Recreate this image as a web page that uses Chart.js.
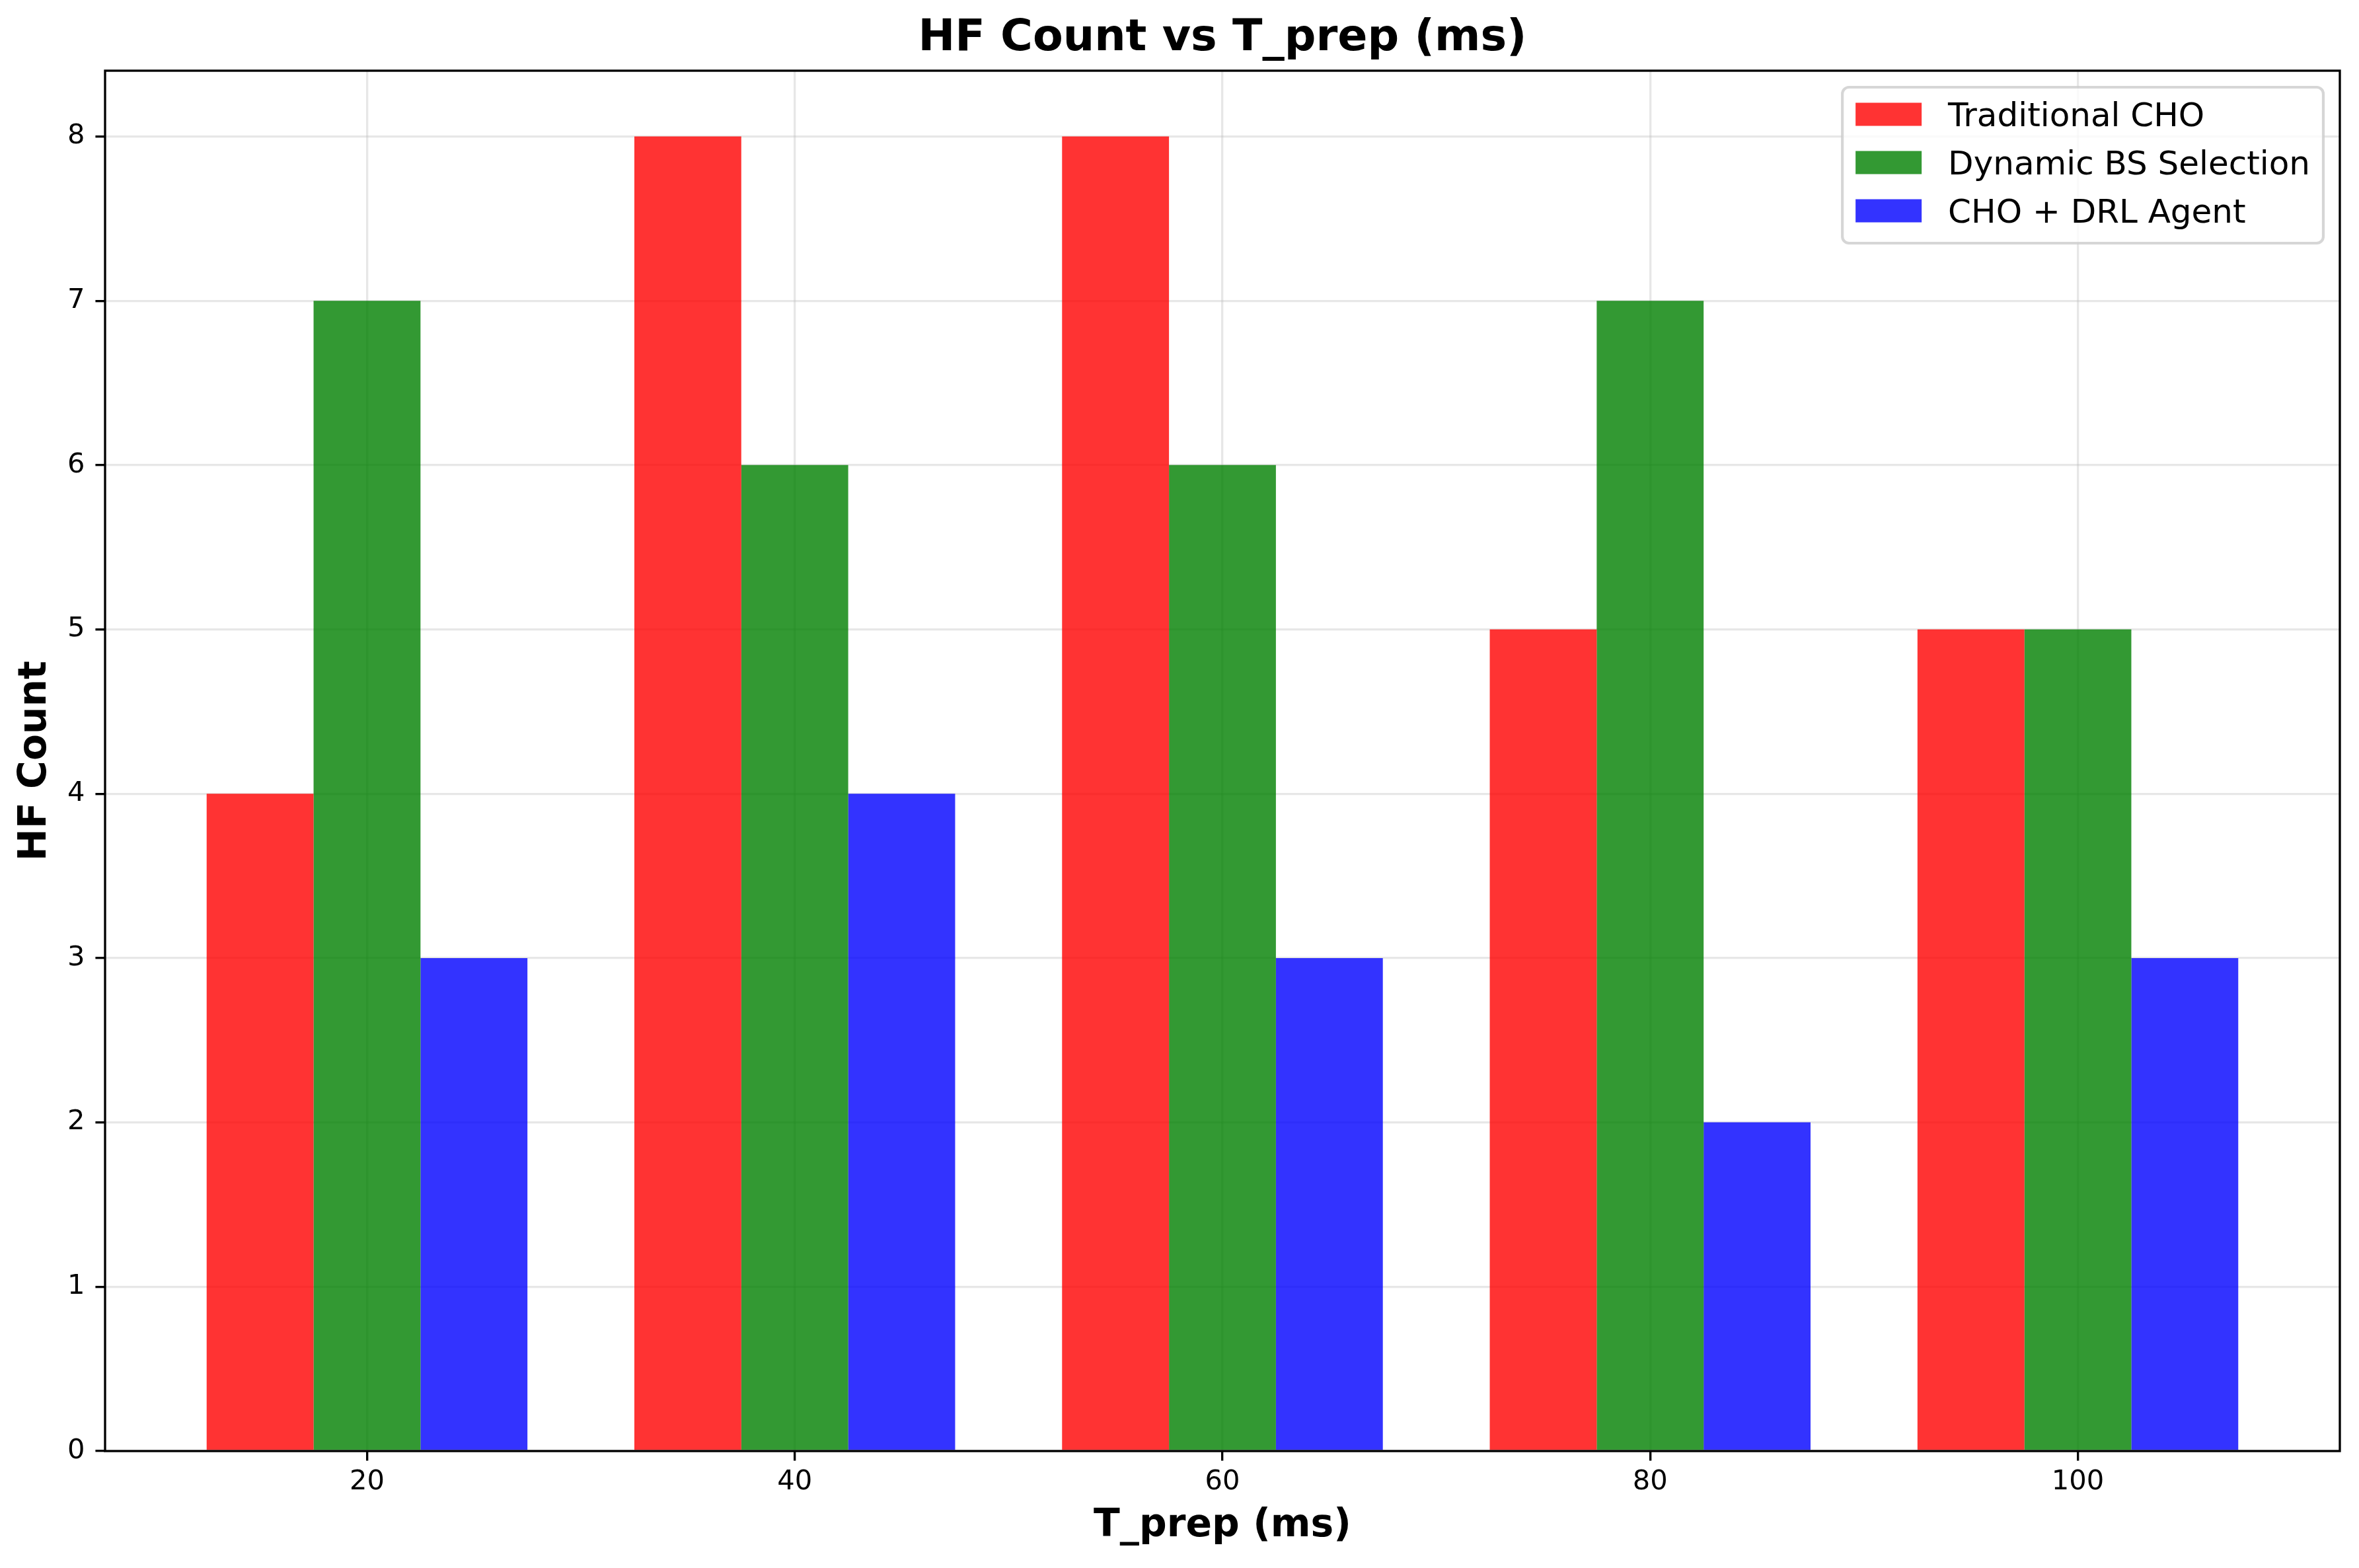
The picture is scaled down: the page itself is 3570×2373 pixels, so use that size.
<!DOCTYPE html>
<html>
<head>
<meta charset="utf-8">
<title>HF Count vs T_prep</title>
<script src="https://cdn.jsdelivr.net/npm/chart.js@4.4.0/dist/chart.umd.min.js"></script>
<style>
  html, body { margin: 0; padding: 0; background: #fff; }
  canvas { display: block; }
</style>
</head>
<body>
<canvas id="chart" width="3570" height="2373"></canvas>
<script>
// values
const tPrepValues = [20, 40, 60, 80, 100];
const traditionalCHO = [4, 8, 8, 5, 5];
const dynamicBS = [7, 6, 6, 7, 5];
const choDRL = [3, 4, 3, 2, 3];

const seriesNames = ['Traditional CHO', 'Dynamic BS Selection', 'CHO + DRL Agent'];
const seriesColors = ['rgba(255,0,0,0.8)', 'rgba(0,128,0,0.8)', 'rgba(0,0,255,0.8)'];

const xTicks = [20, 40, 60, 80, 100];
const yTicks = [0, 1, 2, 3, 4, 5, 6, 7, 8];

const FONT = '"DejaVu Sans", sans-serif';
const PT = 300 / 72; // the reference was saved at 300 dpi

const toPoints = (ys) => tPrepValues.map((x, i) => ({ x: x, y: ys[i] }));

// frame on all four sides + matplotlib style legend box
const frameAndLegend = {
    id: 'frameAndLegend',
    afterDraw(chart) {
        const ctx = chart.ctx;
        const area = chart.chartArea;
        ctx.save();

        ctx.lineWidth = 0.8 * PT;
        ctx.strokeStyle = '#000';
        ctx.strokeRect(area.left, area.top, area.right - area.left, area.bottom - area.top);

        const fs = 12 * PT;
        ctx.font = `${fs}px ${FONT}`;
        const sets = chart.data.datasets;
        const textW = Math.max(...sets.map(d => ctx.measureText(d.label).width));
        const pad = 0.4 * fs, handleW = 2 * fs, gap = 0.8 * fs, rowH = 73;
        const w = pad + handleW + gap + textW + pad;
        const h = 236;
        const right = area.right - 0.5 * fs;
        const top = area.top + 0.5 * fs;
        const left = right - w;

        ctx.beginPath();
        ctx.roundRect(left, top, w, h, 0.2 * fs);
        ctx.fillStyle = 'rgba(255,255,255,0.8)';
        ctx.fill();
        ctx.lineWidth = 1 * PT;
        ctx.strokeStyle = 'rgba(204,204,204,0.8)';
        ctx.stroke();

        sets.forEach((d, i) => {
            const cy = top + 41 + i * rowH;
            ctx.fillStyle = d.backgroundColor;
            ctx.fillRect(left + pad, cy - 0.35 * fs, handleW, 0.7 * fs);
            ctx.fillStyle = '#000';
            ctx.textBaseline = 'alphabetic';
            ctx.fillText(d.label, left + pad + handleW + gap, cy + 18);
        });
        ctx.restore();
    }
};

const gridOpts = {
    color: 'rgba(176,176,176,0.3)',
    lineWidth: 0.8 * PT,
    offset: false,
    drawTicks: true,
    tickLength: 3.5 * PT,
    tickColor: '#000',
    tickWidth: 0.8 * PT
};

new Chart(document.getElementById('chart'), {
    type: 'bar',
    data: {
        datasets: [
            { label: seriesNames[0], data: toPoints(traditionalCHO), backgroundColor: seriesColors[0] },
            { label: seriesNames[1], data: toPoints(dynamicBS), backgroundColor: seriesColors[1] },
            { label: seriesNames[2], data: toPoints(choDRL), backgroundColor: seriesColors[2] }
        ]
    },
    options: {
        responsive: false,
        animation: false,
        devicePixelRatio: 1,
        categoryPercentage: 0.75,
        barPercentage: 1.0,
        borderWidth: 0,
        layout: { padding: { left: 0, right: 29, top: 0, bottom: 0 } },
        plugins: {
            legend: { display: false },
            tooltip: { enabled: false },
            title: {
                display: true,
                fullSize: false,
                text: 'HF Count vs T_prep (ms)',
                color: '#000',
                font: { family: FONT, size: 16 * PT, weight: 'bold', lineHeight: 1.2 },
                padding: { top: 19, bottom: 8 }
            }
        },
        scales: {
            x: {
                type: 'linear',
                min: 7.75,
                max: 112.25,
                offset: false,
                z: 1,
                afterBuildTicks: (s) => { s.ticks = xTicks.map(v => ({ value: v })); },
                afterFit: (s) => { s.height = 177; },
                grid: gridOpts,
                border: { display: false },
                ticks: {
                    color: '#000',
                    font: { family: FONT, size: 10 * PT },
                    padding: 8,
                    maxRotation: 0,
                    autoSkip: false,
                    callback: (v) => String(v)
                },
                title: {
                    display: true,
                    text: 'T_prep (ms)',
                    color: '#000',
                    font: { family: FONT, size: 14 * PT, weight: 'bold', lineHeight: 1.2 },
                    padding: { top: 0, bottom: 28 }
                }
            },
            y: {
                min: 0,
                max: 8.4,
                z: 1,
                afterBuildTicks: (s) => { s.ticks = yTicks.map(v => ({ value: v })); },
                afterFit: (s) => { s.width = 159; },
                grid: gridOpts,
                border: { display: false },
                ticks: {
                    color: '#000',
                    font: { family: FONT, size: 10 * PT },
                    padding: 16,
                    callback: (v) => String(v)
                },
                title: {
                    display: true,
                    text: 'HF Count',
                    color: '#000',
                    font: { family: FONT, size: 14 * PT, weight: 'bold', lineHeight: 1.2 },
                    padding: { top: 19, bottom: 0 }
                }
            }
        }
    },
    plugins: [frameAndLegend]
});
</script>
</body>
</html>
